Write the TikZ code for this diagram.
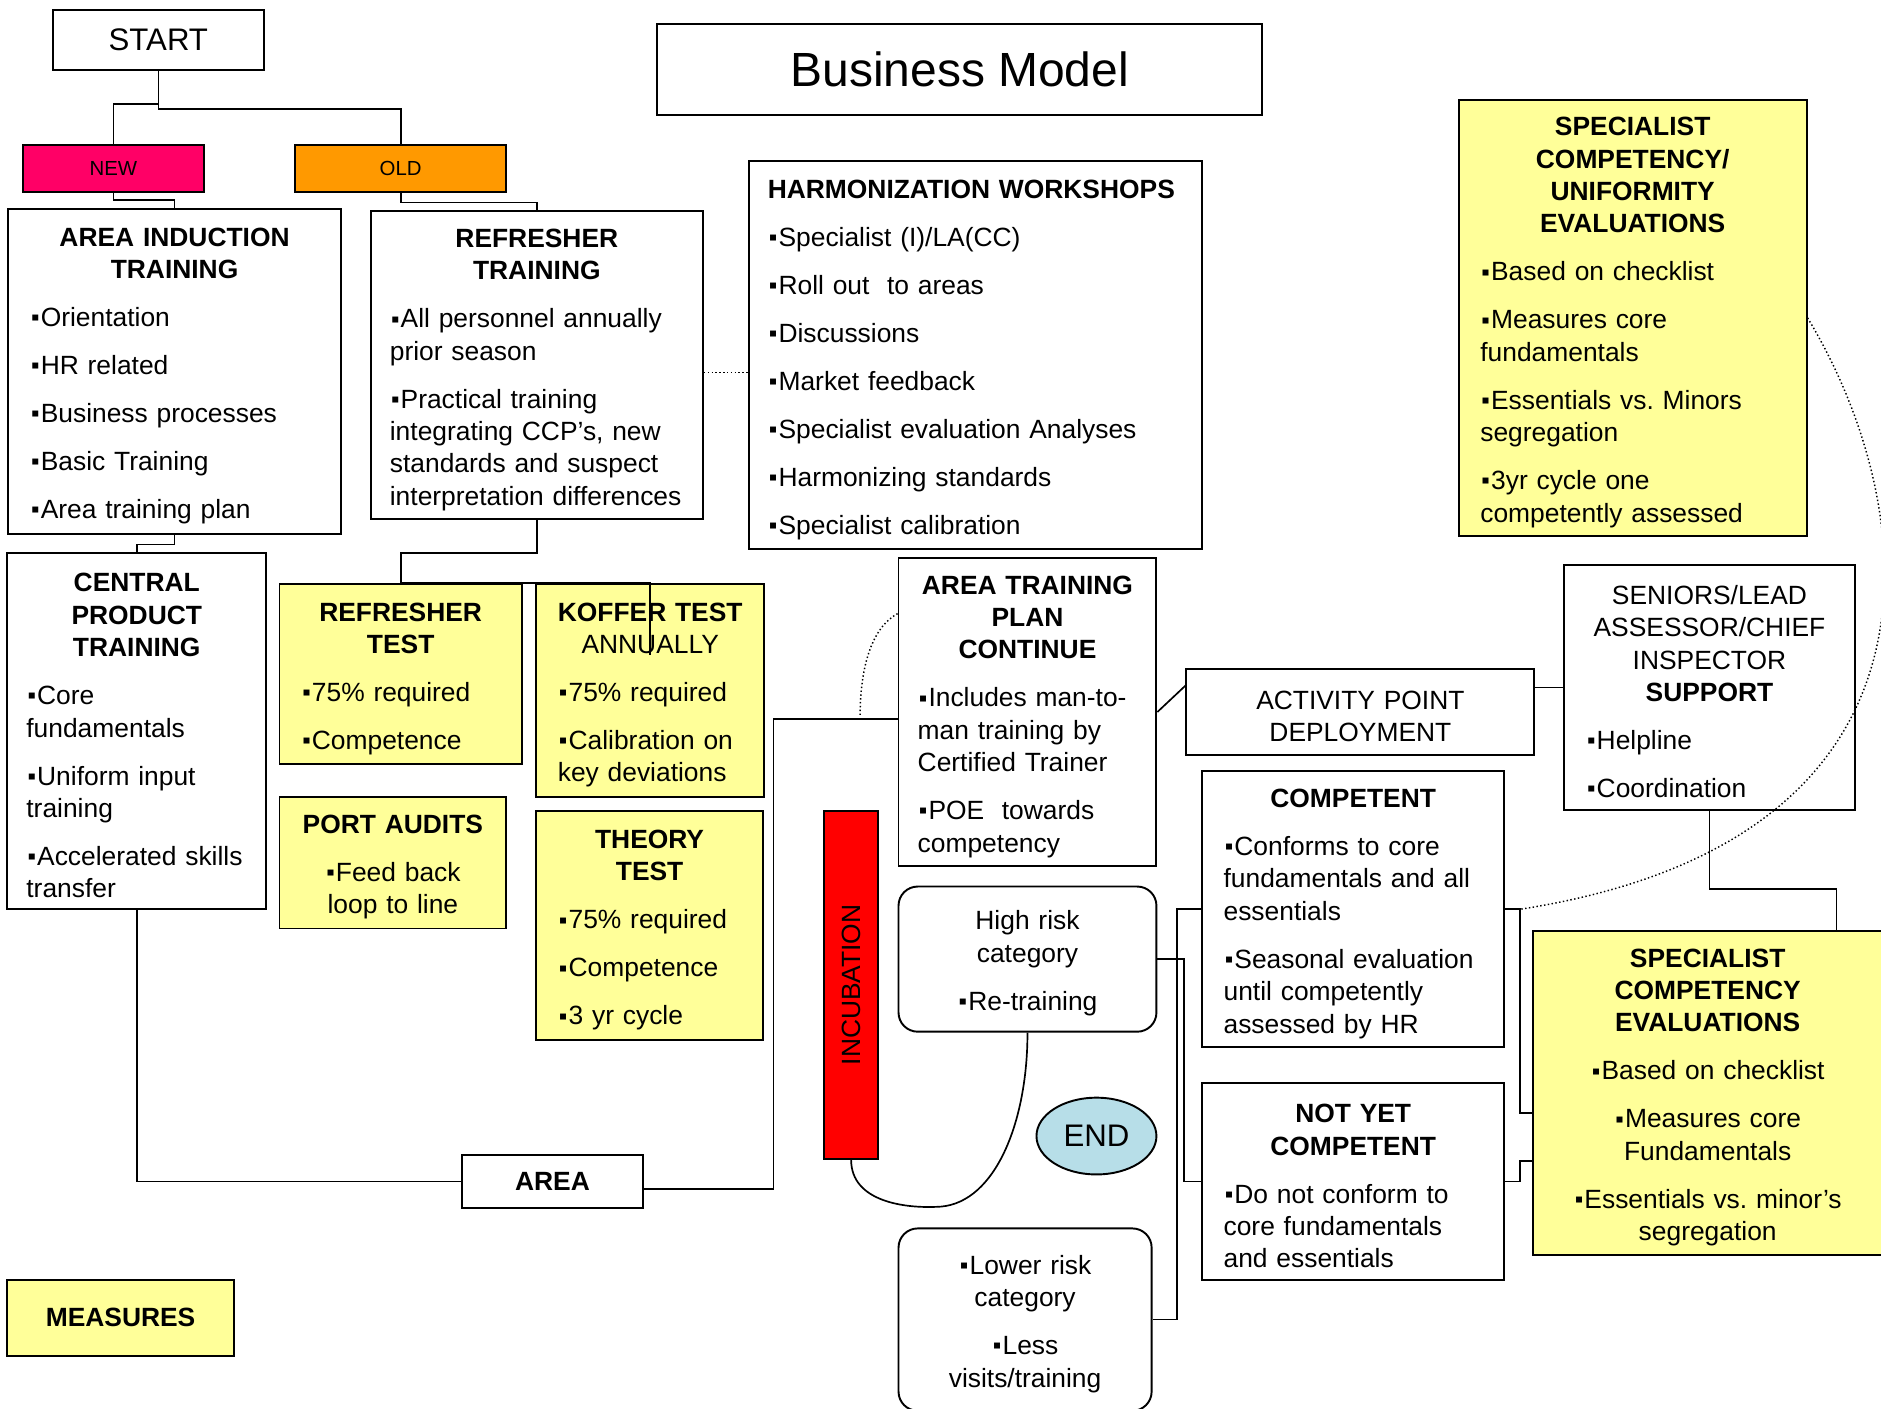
\documentclass[tikz,border=0pt]{standalone}
\usepackage{fontspec}
\setmainfont{Liberation Sans}
\usetikzlibrary{shapes.geometric}
\frenchspacing

\definecolor{paleyellow}{HTML}{FFFF99}
\definecolor{newpink}{HTML}{FF0066}
\definecolor{oldorange}{HTML}{FF9900}
\definecolor{endblue}{HTML}{B7DEE8}

\newcommand\bul{\makebox[4.5pt]{\raisebox{0.3pt}{\fontsize{10}{10}\selectfont ▪}}}
\newcommand\hd[1]{\makebox[\linewidth]{\bfseries #1}}
\newcommand\hn[1]{\makebox[\linewidth]{#1}}
\newcommand\gap{\\[6.5pt]}

\tikzset{
  box/.style={draw, line width=0.8pt, inner xsep=9pt, inner ysep=2pt, align=center,
    font=\fontsize{11}{13.5}\selectfont},
  list/.style={box, align=left, execute at begin node={\rule{0pt}{11.5pt}}},
  note/.style={list, fill=paleyellow},
  soft/.style={list, rounded corners=8pt, align=center},
  tag/.style={draw, line width=0.8pt, minimum height=19.5pt, inner sep=0pt,
    font=\fontsize{8.5}{10}\selectfont},
  link/.style={line width=0.7pt},
  hint/.style={densely dotted, line width=0.6pt}
}

\begin{document}
\begin{tikzpicture}[x=0.5pt, y=-0.5pt]

      \useasboundingbox (0,0) rectangle (1568,1174);

      \node[box, minimum width=88pt, minimum height=25pt,
        font=\fontsize{13}{15}\selectfont] (start) at (132,33) {START};
      \node[box, minimum width=252pt, minimum height=38pt,
        font=\fontsize{20}{24}\selectfont] (title) at (800,58) {Business Model};
      \node[box, minimum width=75.5pt, minimum height=22pt] (area) at (460.5,985) {\textbf{AREA}};
      \node[box, fill=paleyellow, minimum width=94.5pt, minimum height=31.5pt] (meas) at (100.5,1098.5)
        {\textbf{MEASURES}};

      \begin{scope}[every node/.style={list}]
        \node[minimum width=138.5pt, minimum height=135.5pt, text width=120.5pt] (ait) at (145.5,309.5)
          {\hd{AREA INDUCTION}\\\hd{TRAINING}\gap \bul Orientation\gap \bul HR related\gap
           \bul Business processes\gap \bul Basic Training\gap \bul Area training plan};
        \node[minimum width=138.5pt, minimum height=128.5pt, inner xsep=8pt, text width=122.5pt] (rtr) at (447.5,304.5)
          {\hd{REFRESHER}\\\hd{TRAINING}\gap \bul All personnel annually\\prior season\gap
           \bul Practical training\\integrating CCP’s, new\\standards and suspect\\interpretation differences};
        \node[minimum width=189pt, minimum height=162pt, inner xsep=8pt, text width=173pt] (harm) at (813,296)
          {\textbf{HARMONIZATION WORKSHOPS}\gap \bul Specialist (I)/LA(CC)\gap \bul Roll out\ \ to areas\gap
           \bul Discussions\gap \bul Market feedback\gap \bul Specialist evaluation Analyses\gap
           \bul Harmonizing standards\gap \bul Specialist calibration};
        \node[minimum width=108pt, minimum height=148.5pt, inner xsep=8pt, text width=92pt] (ctr) at (114,609.5)
          {\hd{CENTRAL}\\\hd{PRODUCT}\\\hd{TRAINING}\gap \bul Core\\fundamentals\gap
           \bul Uniform input\\training\gap \bul Accelerated skills\\transfer};
        \node[minimum width=107.5pt, minimum height=128.5pt, inner xsep=8pt, text width=91.5pt] (atp) at (856.5,593.5)
          {\hd{AREA TRAINING}\\\hd{PLAN}\\\hd{CONTINUE}\gap \bul Includes man-to-\\man training by\\Certified Trainer\gap
           \bul POE\ \ towards\\competency};
        \node[minimum width=145pt, minimum height=35.5pt, text width=127pt, align=center] (apd) at (1134,593.5)
          {ACTIVITY POINT\\DEPLOYMENT};
        \node[minimum width=121pt, minimum height=102pt, text width=103pt] (sen) at (1425,573)
          {\hn{SENIORS/LEAD}\\\hn{ASSESSOR/CHIEF}\\\hn{INSPECTOR}\\\hd{SUPPORT}\gap \bul Helpline\gap \bul Coordination};
        \node[minimum width=126pt, minimum height=115pt, text width=108pt] (comp) at (1128,758)
          {\hd{COMPETENT}\gap \bul Conforms to core\\fundamentals and all\\essentials\gap
           \bul Seasonal evaluation\\until competently\\assessed by HR};
        \node[minimum width=126pt, minimum height=82pt, text width=108pt] (nyc) at (1128,985)
          {\hd{NOT YET}\\\hd{COMPETENT}\gap \bul Do not conform to\\core fundamentals\\and essentials};
      \end{scope}

      \begin{scope}[every node/.style={note}]
        \node[minimum width=145pt, minimum height=182pt, text width=127pt] (spu) at (1361,265)
          {\hd{SPECIALIST}\\\hd{COMPETENCY/}\\\hd{UNIFORMITY}\\\hd{EVALUATIONS}\gap \bul Based on checklist\gap
           \bul Measures core\\fundamentals\gap \bul Essentials vs. Minors\\segregation\gap
           \bul 3yr cycle one\\competently assessed};
        \node[minimum width=101pt, minimum height=75pt, text width=83pt] (rtest) at (334,562)
          {\hd{REFRESHER}\\\hd{TEST}\gap \bul 75\% required\gap \bul Competence};
        \node[minimum width=95pt, minimum height=88.5pt, text width=77pt] (koffer) at (542,575.5)
          {\hd{KOFFER TEST}\\\hn{ANNUALLY}\gap \bul 75\% required\gap \bul Calibration on\\key deviations};
        \node[minimum width=94.5pt, minimum height=55pt, text width=76.5pt, align=center] (port) at (327.5,719)
          {\textbf{PORT AUDITS}\gap \bul Feed back\\loop to line};
        \node[minimum width=94.5pt, minimum height=95.5pt, text width=76.5pt] (theory) at (541.5,771.5)
          {\hd{THEORY}\\\hd{TEST}\gap \bul 75\% required\gap \bul Competence\gap \bul 3 yr cycle};
        \node[minimum width=145.5pt, minimum height=135pt, text width=127.5pt, align=center] (spe) at (1423.5,911)
          {\textbf{SPECIALIST}\\\textbf{COMPETENCY}\\\textbf{EVALUATIONS}\gap \bul Based on checklist\gap
           \bul Measures core\\Fundamentals\gap \bul Essentials vs. minor’s\\segregation};
      \end{scope}

      \node[tag, fill=newpink, minimum width=75.5pt] (new) at (94.5,140.5) {NEW};
      \node[tag, fill=oldorange, minimum width=88pt] (old) at (334,140.5) {OLD};

      \node[draw, fill=red, line width=0.8pt, minimum width=22.5pt, minimum height=145pt, inner sep=0pt,
        font=\fontsize{11}{13.5}\selectfont] (incub) at (709.5,821) {\rotatebox{90}{INCUBATION}};
      \node[soft, minimum width=107.5pt, minimum height=60.5pt, text width=89.5pt] (hrisk) at (856.5,799.5)
        {High risk\\category\gap \bul Re-training};
      \node[soft, minimum width=105.5pt, minimum height=76pt, text width=87.5pt] (lrisk) at (854.5,1100)
        {\bul Lower risk\\category\gap \bul Less\\visits/training};
      \node[draw, ellipse, fill=endblue, line width=0.8pt, minimum width=50pt, minimum height=32pt,
        inner sep=0pt, font=\fontsize{13}{15}\selectfont] (endn) at (914,947) {END};

      \coordinate (dotend) at (717,597);

      \begin{scope}[link]
        \draw (start.south) ++(0,28) -| (new.north);
        \draw (start.south) -- ++(0,32) -| (old.north);
        \draw (new.south) -- ++(0,6) -| (ait.north);
        \draw (old.south) -- ++(0,8) -| (rtr.north);
        \draw (ait.south) -- ++(0,8) -| (ctr.north);
        \draw (rtr.south) -- ++(0,27) -| (rtest.north);
        \draw (rtest.north) -- (koffer.north) -- ++(0,60);
        \draw (ctr.south) |- (area.west);
        \draw ([yshift=-3pt]area.east) -- ++(108,0) |- ([yshift=-3pt]atp.west);
        \draw (atp.east) -- ([yshift=11pt]apd.west);
        \draw (sen.west) -- (sen.west -| apd.east);
        \draw (sen.south) -- ++(0,65) -| ([xshift=53.75pt]spe.north);
        \draw (comp.west) -- ++(-20,0) |- (lrisk.east);
        \draw (hrisk.east) -- ++(22,0) |- (nyc.west);
        \draw (comp.east) -- ++(12,0) |- ([yshift=-8.5pt]spe.west);
        \draw (nyc.east) -- ++(12,0) |- ([yshift=-28.5pt]spe.west);
        \draw (incub.south) .. controls +(0,35) and +(-30,2) .. ++(75,39)
          .. controls +(45,-4) and +(0,75) .. (hrisk.south);
      \end{scope}

      \begin{scope}[hint]
        \draw ([yshift=-3pt]rtr.east) -- ([yshift=-3pt]rtr.east -| harm.west);
        \draw ([yshift=41pt]atp.west) .. controls +(-22,12) and +(0,-40) .. (dotend);
        \draw (spu.east) .. controls +(94,155) and +(374,-58) .. ([xshift=6pt]comp.east);
      \end{scope}

\end{tikzpicture}
\end{document}
